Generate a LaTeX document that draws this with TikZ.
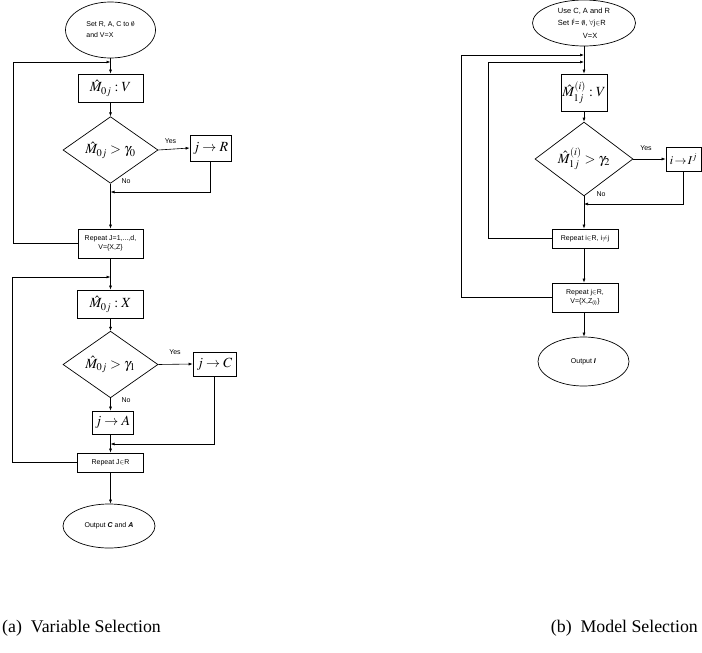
\documentclass[tikz,border=0pt]{standalone}
\usepackage{mathptmx}
\usepackage[no-math]{fontspec}
\setmainfont{Liberation Serif}
\setsansfont{Liberation Sans}
\usetikzlibrary{shapes.geometric,arrows.meta}
\begin{document}
\begin{tikzpicture}[x=1pt,y=-1pt,
  every node/.style={inner sep=0pt},
  lab/.style={font=\sffamily\fontsize{7}{9}\selectfont},
  box/.style={draw,line width=0.7pt,rectangle},
  ell/.style={draw,line width=0.7pt,ellipse},
  dia/.style={draw,line width=0.7pt,diamond},
  mth/.style={font=\fontsize{14}{16}\selectfont},
  arr/.style={-{Latex[length=4pt,width=3pt]},line width=0.6pt},
  ln/.style={line width=0.6pt}]
\useasboundingbox (0,0) rectangle (702,653);
% ---------------- left: variable selection
\node[ell,lab,font=\sffamily\fontsize{7}{11}\selectfont,align=left,minimum width=90,minimum height=56] (e1) at (110.5,30) {Set R, A, C to $\emptyset$\\and V=X};
\node[box,mth,minimum width=65,minimum height=28] (b1) at (110.5,88) {$\hat M_{0j}:V$};
\node[dia,mth,minimum width=95,minimum height=55] (d1) at (110.5,150) {$\hat M_{0j}>\gamma_0$};
\node[box,mth,minimum width=41,minimum height=26] (r1) at (210.5,148) {$j\to R$};
\node[box,lab,align=center,minimum width=65,minimum height=29] (rep1) at (110.5,243.5) {Repeat J=1,...,d,\\V=\{X,Z\}};
\node[box,mth,minimum width=66,minimum height=28] (b2) at (110.5,304) {$\hat M_{0j}:X$};
\node[dia,mth,minimum width=95,minimum height=55] (d2) at (110.5,364.5) {$\hat M_{0j}>\gamma_1$};
\node[box,mth,minimum width=43,minimum height=24] (c2) at (214.5,364) {$j\to C$};
\node[box,mth,minimum width=41,minimum height=23] (a2) at (112.5,422.5) {$j\to A$};
\node[box,lab,minimum width=66,minimum height=19] (rep2) at (110.5,462.5) {Repeat J$\in$R};
\node[ell,lab,minimum width=92,minimum height=44] (e2) at (109,526) {Output \textbf{\textit{C}} and \textbf{\textit{A}}};
\node[lab] (y1) at (170.5,141) {Yes};
\node[lab] (n1) at (126,181) {No};
\node[lab] (y2) at (175,352) {Yes};
\node[lab] (n2) at (126,400) {No};
\coordinate (j1) at (110.5,62);
\coordinate (j2) at (110.5,192);
\coordinate (j3) at (110.5,277);
\coordinate (j4) at (110.5,444);
\coordinate (l1) at (13,243.5);
\coordinate (l2) at (12,462.5);
\draw[arr] (e1) -- (b1);
\draw[arr] (rep1.west) -- (l1) |- (j1);
\draw[arr] (b1) -- (d1);
\draw[arr] (d1.east) -- (r1.west);
\draw[arr] (r1.south) |- (j2);
\draw[arr] (d1.south) -- (rep1.north);
\draw[arr] (rep1.south) -- (b2.north);
\draw[arr] (rep2.west) -- (l2) |- (j3);
\draw[arr] (b2) -- (d2);
\draw[arr] (d2.east) -- (c2.west);
\draw[arr] (d2.south) -- (d2.south |- a2.north);
\draw[arr] (a2.south -| rep2.north) -- (rep2.north);
\draw[arr] (c2.south) |- (j4);
\draw[arr] (rep2.south) -- (rep2.south |- e2.north);
% ---------------- right: model selection
\node[ell,lab,font=\sffamily\fontsize{7.5}{12.5}\selectfont,align=left,minimum width=103,minimum height=46] (E1) at (584,23) {Use C, A and R\\Set I\textsuperscript{j}= $\emptyset$, $\forall$j$\in$R\\\hspace*{25pt}V=X};
\node[box,mth,minimum width=46,minimum height=37] (B1) at (584,92.5) {$\hat M^{(i)}_{1j}:V$};
\node[dia,mth,minimum width=98,minimum height=58] (D1) at (584,159) {$\hat M^{(i)}_{1j}>\gamma_2$};
\node[box,font=\fontsize{12}{14}\selectfont,minimum width=35,minimum height=24] (I1) at (683.5,159) {$i\!\to\! I^j$};
\node[box,lab,minimum width=66,minimum height=19] (R1) at (585,238.5) {Repeat i$\in$R, i$\neq$j};
\node[box,lab,align=center,minimum width=66,minimum height=29] (R2) at (585,297.5) {Repeat j$\in$R,\\V=\{X,Z\textsubscript{(i)}\}};
\node[ell,lab,minimum width=91,minimum height=49] (E2) at (583.5,361.5) {Output \textbf{\textit{I}}};
\node[lab] (Y3) at (646,148) {Yes};
\node[lab] (N3) at (601,194) {No};
\coordinate (k1) at (584,55);
\coordinate (k2) at (584,62);
\coordinate (k3) at (584,204);
\coordinate (m1) at (488,238.5);
\coordinate (m2) at (461,297.5);
\draw[arr] (E1.south) -- (B1.north);
\draw[arr] (R1.west) -- (m1) |- (k2);
\draw[arr] (R2.west) -- (m2) |- (k1);
\draw[arr] (B1) -- (D1);
\draw[arr] (D1.east) -- (I1.west);
\draw[arr] (I1.south) |- (k3);
\draw[arr] (D1.south) -- (D1.south |- R1.north);
\draw[arr] (R1.south -| D1.south) -- (R2.north -| D1.south);
\draw[arr] (R2.south -| D1.south) -- (E2.north -| D1.south);
% ---------------- captions
\node[font=\fontsize{17.8}{20}\selectfont,anchor=west] (capa) at (2,628) {(a)\ \ Variable Selection};
\node[font=\fontsize{17.8}{20}\selectfont,anchor=east] (capb) at (698,628) {(b)\ \ Model Selection};
\end{tikzpicture}
\end{document}
